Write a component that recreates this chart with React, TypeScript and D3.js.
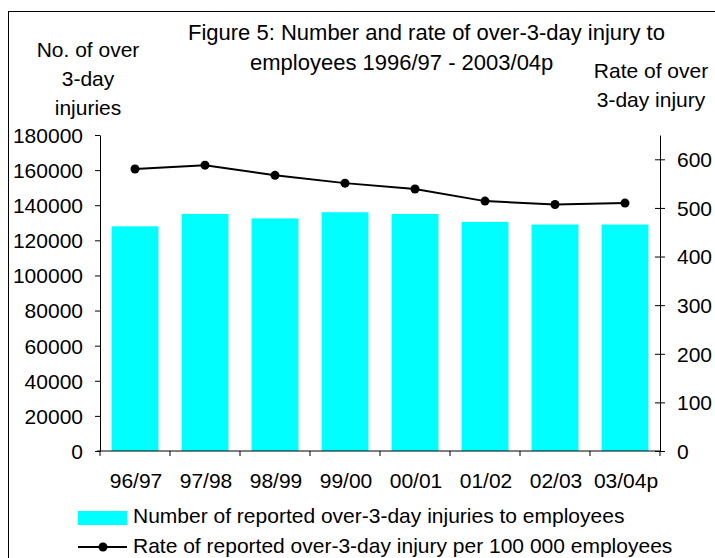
import React, { useEffect, useRef } from 'react'
import * as d3 from 'd3'

const years = ['96/97', '97/98', '98/99', '99/00', '00/01', '01/02', '02/03', '03/04p']
const injuries = [128000, 135000, 132500, 136000, 135000, 130500, 129000, 129000]
const rates = [580, 588, 567, 551, 539, 514, 507, 510]
const leftTicks = [0, 20000, 40000, 60000, 80000, 100000, 120000, 140000, 160000, 180000]
const rightTicks = [0, 100, 200, 300, 400, 500, 600]
const leftTitle = ['No. of over', '3-day', 'injuries']
const rightTitle = ['Rate of over', '3-day injury']

const App = () => {
  const svgRef = useRef<SVGSVGElement>(null)

  const width = 715
  const height = 558
  const plot = { left: 100, right: 660, top: 135, bottom: 451 }
  const font = 'Arial, "Liberation Sans", sans-serif'
  const fs = 21

  useEffect(() => {
    const svg = d3.select(svgRef.current)
    svg.selectAll('*').remove()

    const x = d3.scaleBand().domain(years).range([plot.left, plot.right]).paddingInner(0.33).paddingOuter(0.165)
    const xs = d3.scaleBand().domain(years).range([plot.left, plot.right])
    const yL = d3.scaleLinear().domain([0, 180000]).range([plot.bottom, plot.top])
    const yR = d3.scaleLinear().domain([0, 650]).range([plot.bottom, plot.top])

    // outer frame (runs off the page on the right and bottom)
    svg.append('rect')
      .attr('x', 8.5).attr('y', 11.5)
      .attr('width', 800).attr('height', 700)
      .attr('fill', 'white').attr('stroke', 'black').attr('stroke-width', 1)

    // bars
    svg.append('g')
      .selectAll('rect')
      .data(injuries)
      .join('rect')
        .attr('x', (d, i) => x(years[i])!)
        .attr('width', x.bandwidth())
        .attr('y', d => yL(d))
        .attr('height', d => yL(0) - yL(d))
        .attr('fill', '#00ffff')

    // left axis
    const left = svg.append('g').attr('transform', `translate(${plot.left},0)`)
      .call(d3.axisLeft(yL).tickValues(leftTicks).tickSize(5).tickSizeOuter(0).tickFormat(d3.format('d')))
    left.select('.domain').attr('stroke', 'black')
    left.selectAll('text').attr('font-size', fs).attr('font-family', font).attr('fill', 'black').attr('x', -17).attr('dy', '0.35em')

    // right axis (ticks cross the line)
    const right = svg.append('g').attr('transform', `translate(${plot.right},0)`)
      .call(d3.axisRight(yR).tickValues(rightTicks).tickSize(5).tickSizeOuter(0))
    right.select('.domain').attr('stroke', 'black')
    right.selectAll('.tick line').attr('x1', -5).attr('x2', 5)
    right.selectAll('text').attr('font-size', fs).attr('font-family', font).attr('fill', 'black').attr('x', 17).attr('dy', '0.35em')

    // x axis
    const bottom = svg.append('g').attr('transform', `translate(0,${plot.bottom})`)
    bottom.append('line').attr('x1', plot.left - 3).attr('x2', plot.right).attr('stroke', 'black')
    bottom.selectAll('line.tk')
      .data(d3.range(years.length + 1))
      .join('line')
        .attr('class', 'tk')
        .attr('x1', i => plot.left + i * xs.step())
        .attr('x2', i => plot.left + i * xs.step())
        .attr('y1', 0).attr('y2', 5)
        .attr('stroke', 'black')
    bottom.selectAll('text')
      .data(years)
      .join('text')
        .attr('x', d => xs(d)! + xs.bandwidth() / 2 + 1)
        .attr('y', 37)
        .attr('text-anchor', 'middle')
        .attr('font-size', fs).attr('font-family', font)
        .text(d => d)

    // rate line
    const cx = (i: number) => xs(years[i])! + xs.bandwidth() / 2
    const line = d3.line<number>().x((d, i) => cx(i)).y(d => yR(d))
    svg.append('path').datum(rates).attr('d', line).attr('fill', 'none').attr('stroke', 'black').attr('stroke-width', 2)
    svg.append('g').selectAll('circle')
      .data(rates)
      .join('circle')
        .attr('cx', (d, i) => cx(i)).attr('cy', d => yR(d)).attr('r', 4.5)
        .attr('fill', 'black')

    // titles
    const t = svg.append('g').attr('font-family', font).attr('font-size', fs).attr('fill', 'black')
    t.append('text').attr('x', 188).attr('y', 40).attr('font-size', 22).text('Figure 5: Number and rate of over-3-day injury to')
    t.append('text').attr('x', 250).attr('y', 70).attr('font-size', 22).text('employees 1996/97 - 2003/04p')
    leftTitle.forEach((s, i) => t.append('text').attr('x', 88).attr('y', 57 + i * 29).attr('text-anchor', 'middle').text(s))
    rightTitle.forEach((s, i) => t.append('text').attr('x', 651).attr('y', 78 + i * 29).attr('text-anchor', 'middle').text(s))

    // legend
    const lg = svg.append('g').attr('font-family', font).attr('font-size', fs)
    lg.append('rect').attr('x', 78).attr('y', 511).attr('width', 49).attr('height', 14).attr('fill', '#00ffff')
    lg.append('text').attr('x', 133).attr('y', 523).text('Number of reported over-3-day injuries to employees')
    lg.append('line').attr('x1', 78).attr('x2', 127).attr('y1', 547).attr('y2', 547).attr('stroke', 'black').attr('stroke-width', 2)
    lg.append('circle').attr('cx', 103).attr('cy', 547).attr('r', 4.5).attr('fill', 'black')
    lg.append('text').attr('x', 133).attr('y', 553).text('Rate of reported over-3-day injury per 100 000 employees')
  }, [])

  return (
    <div style={{ position: 'absolute', left: 0, top: 0, width, height, overflow: 'hidden', background: 'white' }}>
      <svg ref={svgRef} width={width} height={height}></svg>
    </div>
  )
}

export default App
